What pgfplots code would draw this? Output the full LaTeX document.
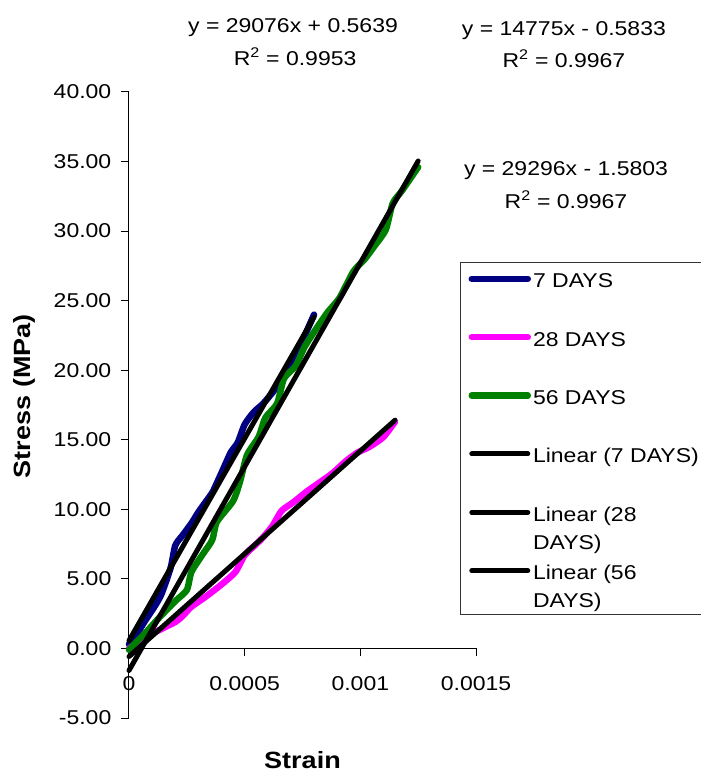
\documentclass[border=0pt]{standalone}
\usepackage{fontspec}
\setmainfont{Liberation Sans}[FakeStretch=1.15]
\usepackage{pgfplots}
\pgfplotsset{compat=1.18}
\definecolor{navyS}{RGB}{0,0,128}
\definecolor{magS}{RGB}{255,0,255}
\definecolor{grnS}{RGB}{0,128,0}
\begin{document}
\begin{tikzpicture}[font=\fontsize{20}{24}\selectfont]
\useasboundingbox (-129pt,-58pt) rectangle (572pt,718pt);
\begin{axis}[
  at={(0pt,0pt)}, anchor=south west,
  scale only axis, width=347pt, height=626pt,
  xmin=0, xmax=0.0015, ymin=-5, ymax=40,
  axis x line=middle, axis y line=left,
  axis line style={-, line width=1pt, black},
  hide obscured x ticks=false, hide obscured y ticks=false,
  scaled x ticks=false, scaled y ticks=false,
  xtick={0,0.0005,0.001,0.0015}, xticklabels={0,0.0005,0.001,0.0015},
  ytick={-5,0,5,10,15,20,25,30,35,40},
  yticklabels={-5.00,0.00,5.00,10.00,15.00,20.00,25.00,30.00,35.00,40.00},
  tick align=outside, major tick length=8pt,
  tick style={black, line width=1pt},
  minor tick num=0,
  ticklabel style={font=\fontsize{20}{24}\selectfont, inner sep=0pt},
  xticklabel style={anchor=north, yshift=-20pt},
  yticklabel style={anchor=east, xshift=-9.5pt},
  xlabel={Strain}, ylabel={Stress (MPa)},
  xlabel style={at={(axis description cs:0.5,-0.067)}, anchor=center, font=\bfseries\fontsize{23.5}{27}\selectfont},
  ylabel style={at={(axis description cs:-0.300,0.514)}, anchor=center, font=\bfseries\fontsize{23.5}{27}\selectfont},
  clip=false,
  legend style={at={(rel axis cs:0.954,0.728)}, anchor=north west,
    draw=black!80, line width=1pt, fill=white,
    inner xsep=8pt, inner ysep=10pt, row sep=38.4pt, column sep=2pt,
    font=\fontsize{20}{24}\selectfont,
    cells={anchor=base west},
    nodes={inner sep=0pt, text height=15pt, text depth=5pt}},
  legend image code/.code={\draw[#1] (0pt,9pt) -- (56pt,9pt);},
]
\addplot[navyS, line width=6.5pt, line cap=round, line join=round, smooth, tension=0.4] coordinates {
(0,0.3) (0.00004,1.2) (0.00007,2.0) (0.00011,3.0) (0.00014,3.9) (0.00018,5.8)
(0.00020,7.4) (0.00023,8.1) (0.00027,9.0) (0.00030,9.8) (0.00033,10.5) (0.00036,11.2)
(0.00038,11.9) (0.00041,13.0) (0.00044,14.1) (0.00047,14.8) (0.00050,16.1) (0.00054,17.0)
(0.00058,17.6) (0.00063,18.6) (0.00069,20.0) (0.00073,21.4) (0.00076,22.5) (0.00080,24.0)
};
\addlegendentry{7 DAYS}
\addplot[magS, line width=6.5pt, line cap=round, line join=round, smooth, tension=0.4] coordinates {
(0,0.0) (0.00004,0.4) (0.00007,0.8) (0.00014,1.4) (0.00020,1.9) (0.00023,2.3)
(0.00027,3.0) (0.00033,3.7) (0.00040,4.6) (0.00046,5.5) (0.00050,6.7) (0.00055,7.5)
(0.00058,8.0) (0.00062,8.8) (0.00066,9.9) (0.00071,10.5) (0.00077,11.3) (0.00083,12.0)
(0.00088,12.6) (0.00094,13.5) (0.00099,14.1) (0.00104,14.5) (0.00110,15.2) (0.00115,16.3)
};
\addlegendentry{28 DAYS}
\addplot[grnS, line width=6.5pt, line cap=round, line join=round, smooth, tension=0.4] coordinates {
(0,-0.1) (0.00004,0.6) (0.00007,1.1) (0.00013,2.2) (0.00020,3.4) (0.00025,4.2)
(0.00027,5.5) (0.00032,6.8) (0.00036,7.8) (0.00038,9.1) (0.00045,10.6) (0.00048,12.0)
(0.00051,13.9) (0.00056,15.2) (0.00059,16.6) (0.00064,17.6) (0.00067,19.4) (0.00072,20.3)
(0.00076,21.7) (0.00081,23.0) (0.00086,24.2) (0.00091,25.2) (0.00097,27.1) (0.00102,28.0)
(0.00106,28.9) (0.00111,30.1) (0.00114,32.0) (0.00118,32.9) (0.00125,34.6)
};
\addlegendentry{56 DAYS}
\addplot[black, line width=5pt, line cap=round] coordinates {(0,0.5639) (0.0008,23.8247)};
\addlegendentry{Linear (7 DAYS)}
\addplot[black, line width=5pt, line cap=round] coordinates {(0,-0.5833) (0.00115,16.408)};
\addlegendentry{\begin{tabular}[t]{@{}l@{}}Linear (28\\[4pt]DAYS)\end{tabular}}
\addplot[black, line width=5pt, line cap=round] coordinates {(0,-1.5803) (0.00125,35.04)};
\addlegendentry[text depth=25pt]{\begin{tabular}[t]{@{}l@{}}Linear (56\\[4pt]DAYS)\end{tabular}}
\node[anchor=base] at (axis cs:0.000709,44.28) {y = 29076x + 0.5639};
\node[anchor=base] at (axis cs:0.000718,41.91) {R\textsuperscript{2} = 0.9953};
\node[anchor=base] at (axis cs:0.00188,44.07) {y = 14775x - 0.5833};
\node[anchor=base] at (axis cs:0.00188,41.77) {R\textsuperscript{2} = 0.9967};
\node[anchor=base] at (axis cs:0.001889,34.0) {y = 29296x - 1.5803};
\node[anchor=base] at (axis cs:0.001889,31.63) {R\textsuperscript{2} = 0.9967};
\end{axis}
\end{tikzpicture}
\end{document}
